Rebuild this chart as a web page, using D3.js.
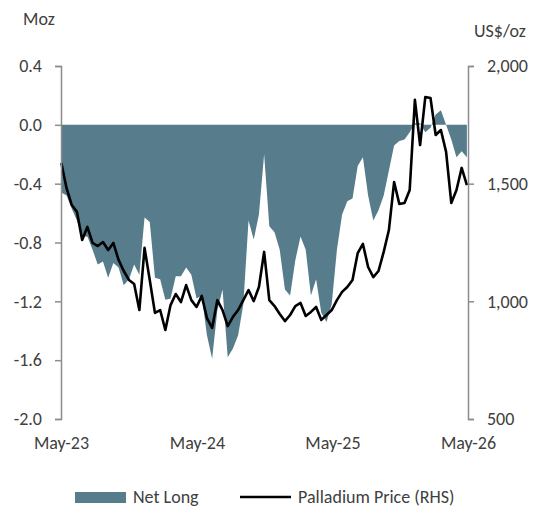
<!DOCTYPE html>
<html lang="en">
<head>
    <meta charset="UTF-8">
    <script src="https://d3js.org/d3.v7.min.js"></script>
    <title>Palladium net long vs price</title>
    <style>
        body{ margin:0; background:#fff; }
        text{ font-family: Carlito, Calibri, Lato, sans-serif; fill:#404040; }
    </style>
</head>
<body>
    <script>
        // biweekly COT dates, starting 2 May 2023
        var startDate = new Date(2023, 4, 2);
        var netLong = [-0.46,-0.48,-0.57,-0.65,-0.76,-0.76,-0.85,-0.95,-0.93,-1.04,
                       -0.94,-0.97,-1.09,-1.05,-0.95,-1.02,-0.63,-0.66,-1.04,-1.05,
                       -1.19,-1.18,-1.03,-1.03,-0.97,-1.02,-1.18,-1.16,-1.43,-1.59,
                       -1.26,-1.12,-1.58,-1.52,-1.43,-1.22,-0.65,-0.78,-0.61,-0.20,
                       -0.69,-0.73,-0.85,-1.12,-1.16,-0.92,-0.76,-0.85,-1.16,-1.05,
                       -1.28,-1.34,-1.22,-0.85,-0.61,-0.52,-0.50,-0.28,-0.22,-0.48,
                       -0.65,-0.58,-0.48,-0.31,-0.14,-0.11,-0.10,-0.05,0.01,0.01,
                       -0.05,-0.02,0.07,0.10,0.00,-0.10,-0.22,-0.18,-0.22];
        var price = [1588,1481,1409,1380,1261,1316,1248,1235,1252,1218,
                     1248,1176,1129,1091,1074,963,1227,1091,951,963,
                     878,984,1031,997,1069,1005,976,1023,929,887,
                     1005,963,895,934,963,1005,1048,1001,1061,1210,
                     1005,980,946,916,942,980,993,938,955,976,
                     921,942,963,1005,1040,1061,1091,1205,1244,1146,
                     1103,1129,1210,1303,1507,1414,1418,1473,1856,1664,
                     1868,1864,1707,1728,1635,1418,1473,1567,1494];
        var dates = netLong.map(function(d,i){ return d3.timeDay.offset(startDate, i*14); });

        var leftTicks = [0.4,0.0,-0.4,-0.8,-1.2,-1.6,-2.0];
        var rightTicks = [500,1000,1500,2000];
        var xTicks = [new Date(2023,4,1), new Date(2024,4,1), new Date(2025,4,1), new Date(2026,4,1)];

        var width=551, height=511;
        var plotL=61, plotR=468, plotT=66, plotB=419;
        var areaColor = "#577c8c";
        var fontSize = "18px";

        var svg = d3.select("body").append("svg").attr("width",width).attr("height",height);

        var xScale = d3.scaleTime().domain([xTicks[0], xTicks[3]]).range([plotL,plotR]);
        var yL = d3.scaleLinear().domain([-2.0,0.4]).range([plotB,plotT]);
        var yR = d3.scaleLinear().domain([500,2000]).range([plotB,plotT]);

        // net long area from zero
        var area = d3.area().x(function(d,i){return xScale(dates[i]);})
                            .y0(yL(0)).y1(function(d){return yL(d);});
        svg.append("path").datum(netLong).attr("d",area).style("fill",areaColor);

        // price line
        var line = d3.line().x(function(d,i){return xScale(dates[i]);}).y(function(d){return yR(d);});
        svg.append("path").datum(price).attr("d",line)
           .style("fill","none").style("stroke","#000").style("stroke-width",2.6)
           .style("stroke-linejoin","round");

        var yAxisL = d3.axisLeft(yL).tickValues(leftTicks).tickSize(6).tickPadding(13)
                       .tickFormat(function(d){return d.toFixed(1);});
        var yAxisR = d3.axisRight(yR).tickValues(rightTicks).tickSize(6).tickPadding(13)
                       .tickFormat(d3.format(","));
        var xAxis = d3.axisBottom(xScale).tickValues(xTicks).tickSize(0).tickPadding(0)
                       .tickFormat(d3.timeFormat("%b-%y"));

        var gL = svg.append("g").attr("transform","translate("+plotL+",0)").call(yAxisL);
        var gR = svg.append("g").attr("transform","translate("+plotR+",0)").call(yAxisR);
        var gX = svg.append("g").attr("transform","translate(0,436)").call(xAxis);
        gX.select(".domain").remove();

        [gL,gR,gX].forEach(function(g){
            g.selectAll(".domain, line").style("stroke","#8c8c8c").style("stroke-width",1.5);
            g.selectAll("text").style("font-size",fontSize).style("fill","#404040")
             .style("font-family","Carlito, Calibri, Lato, sans-serif");
        });

        svg.append("text").attr("x",23).attr("y",25).style("font-size",fontSize).text("Moz");
        svg.append("text").attr("x",474).attr("y",37).style("font-size",fontSize).text("US$/oz");

        // legend
        var leg = svg.append("g").attr("transform","translate(0,497)");
        leg.append("rect").attr("x",75).attr("y",-5).attr("width",51).attr("height",11).style("fill",areaColor);
        leg.append("text").attr("x",133).attr("y",6).style("font-size",fontSize).text("Net Long");
        leg.append("line").attr("x1",240).attr("x2",291).attr("y1",0).attr("y2",0)
           .style("stroke","#000").style("stroke-width",2.6);
        leg.append("text").attr("x",298).attr("y",6).style("font-size",fontSize).text("Palladium Price (RHS)");
    </script>
</body>
</html>
